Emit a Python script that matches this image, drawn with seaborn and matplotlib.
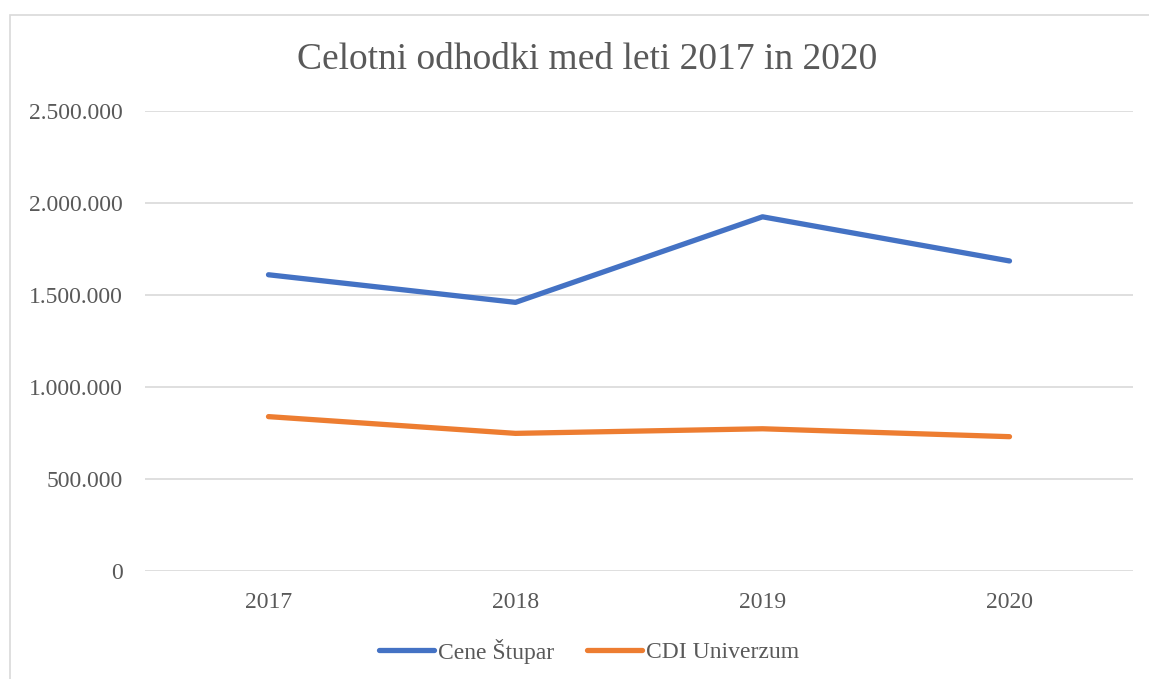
import matplotlib
matplotlib.use("Agg")
import matplotlib.pyplot as plt
from matplotlib.ticker import FuncFormatter, MultipleLocator
from matplotlib.patches import Rectangle
import seaborn as sns
import pandas as pd

years = ["2017", "2018", "2019", "2020"]
cene_stupar = [1610000, 1460000, 1925000, 1685000]
cdi_univerzum = [839000, 748000, 773000, 730000]
series_names = ["Cene Štupar", "CDI Univerzum"]
title = "Celotni odhodki med leti 2017 in 2020"

df = pd.DataFrame({
    "Leto": years * 2,
    "Odhodki": cene_stupar + cdi_univerzum,
    "Serija": [series_names[0]] * len(years) + [series_names[1]] * len(years),
})

sns.set_theme(style="white")
plt.rcParams["font.family"] = ["Liberation Serif", "DejaVu Serif"]

fig = plt.figure(figsize=(11.49, 6.79), dpi=100)
ax = fig.add_axes([145 / 1149, 1 - 571 / 679, (1133 - 145) / 1149, (571 - 111) / 679])

palette = {series_names[0]: "#4472C4", series_names[1]: "#ED7D31"}
sns.lineplot(data=df, x="Leto", y="Odhodki", hue="Serija", palette=palette,
             linewidth=3.8, sort=False, ax=ax, legend=True)
for line in ax.lines:
    line.set_solid_capstyle("round")
    line.set_solid_joinstyle("round")

ax.set_xlim(-0.5, 3.5)
ax.set_ylim(0, 2500000)
ax.yaxis.set_major_locator(MultipleLocator(500000))
ax.yaxis.set_major_formatter(FuncFormatter(lambda v, p: f"{int(v):,}".replace(",", ".")))
ax.grid(axis="y", color="#D9D9D9", linewidth=1.2)
ax.grid(axis="x", visible=False)
for s in ax.spines.values():
    s.set_visible(False)
ax.set_xlabel("")
ax.set_ylabel("")
ax.tick_params(axis="y", labelsize=17, labelcolor="#595959", length=0, pad=16)
ax.tick_params(axis="x", labelsize=17, labelcolor="#595959", length=0, pad=15)

handles, labels = ax.get_legend_handles_labels()
ax.get_legend().remove()
for h in handles:
    h.set_linewidth(3.8)
    h.set_solid_capstyle("round")
fig.legend(handles, labels, loc="center", bbox_to_anchor=(589 / 1149, 1 - 651 / 679),
           ncol=2, frameon=False, fontsize=17, handlelength=2.33, handletextpad=0.17,
           columnspacing=1.4, labelcolor="#595959")

fig.text(587 / 1149, 1 - 60 / 679, title, ha="center", va="center",
         fontsize=27, color="#595959")

fig.patches.append(Rectangle((10 / 1149, -0.1), 1.2, 1.1 - 15 / 679,
                             transform=fig.transFigure, fill=False,
                             edgecolor="#D9D9D9", linewidth=1.2))

fig.savefig("out.png", dpi=100)
